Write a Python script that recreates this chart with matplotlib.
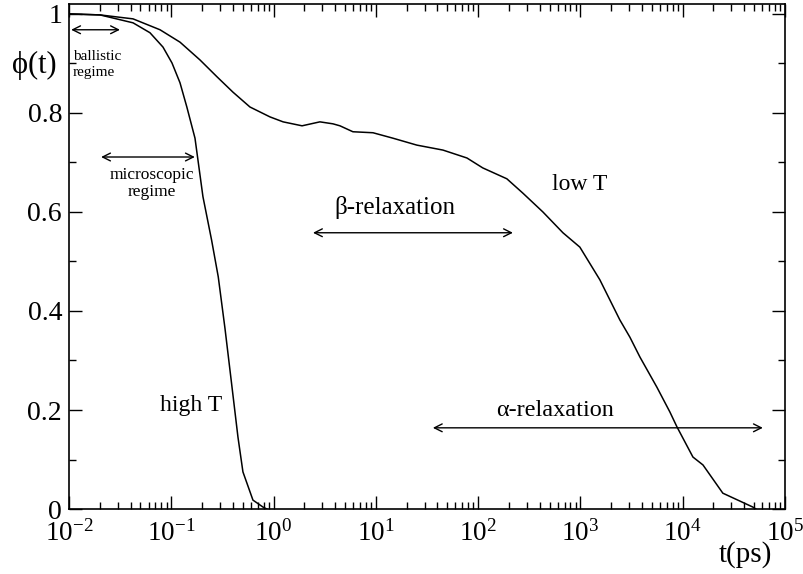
import numpy as np
import matplotlib
matplotlib.use("Agg")
import matplotlib.pyplot as plt
from matplotlib.ticker import LogLocator, MultipleLocator, FuncFormatter, NullFormatter

# Times-like look
plt.rcParams["font.family"] = ["Liberation Serif", "DejaVu Serif"]
plt.rcParams["mathtext.fontset"] = "custom"
plt.rcParams["mathtext.rm"] = "Liberation Serif"
plt.rcParams["mathtext.it"] = "Liberation Serif:italic"

# high temperature correlator
t_high = [0.01, 0.0201, 0.0423, 0.0619, 0.083, 0.1016, 0.1217, 0.142, 0.1706,
          0.204, 0.248, 0.288, 0.335, 0.388, 0.449, 0.502, 0.629, 0.788, 0.86]
phi_high = [1.0, 0.998, 0.982, 0.962, 0.933, 0.901, 0.861, 0.812, 0.749,
            0.631, 0.543, 0.469, 0.365, 0.255, 0.145, 0.075, 0.018, 0.004, 0.0]

# low temperature correlator
t_low = [0.01, 0.0201, 0.0423, 0.0776, 0.1217, 0.191, 0.280, 0.401, 0.588,
         0.923, 1.24, 1.90, 2.84, 3.81, 4.46, 5.97, 9.38, 14.7, 25.2, 45.3,
         77.8, 111, 191, 274, 430, 675, 988, 1550, 2430, 3050, 3820, 5600,
         7500, 8790, 12600, 15800, 24700, 48500, 52000]
phi_low = [1.0, 0.998, 0.990, 0.968, 0.943, 0.907, 0.873, 0.842, 0.812,
           0.792, 0.782, 0.774, 0.782, 0.778, 0.774, 0.762, 0.76, 0.749,
           0.735, 0.725, 0.709, 0.689, 0.667, 0.638, 0.6, 0.558, 0.529,
           0.463, 0.382, 0.347, 0.307, 0.246, 0.196, 0.166, 0.105, 0.089,
           0.032, 0.004, 0.0]

# regime arrows: (t_start, t_end, phi)
arrows = {
    "ballistic": (0.0105, 0.0315, 0.968),
    "microscopic": (0.0206, 0.17, 0.711),
    "beta": (2.43, 219, 0.558),
    "alpha": (36.1, 60800, 0.164),
}

fig = plt.figure(figsize=(8.04, 5.74), dpi=100)
ax = fig.add_axes([0.0858, 0.1132, 0.8905, 0.8798])

ax.plot(t_high, phi_high, color="black", lw=1.1)
ax.plot(t_low, phi_low, color="black", lw=1.1)

ax.set_xscale("log")
ax.set_xlim(1e-2, 1e5)
ax.set_ylim(0, 1.02)

for name, (t0, t1, y) in arrows.items():
    ax.annotate("", xy=(t1, y), xytext=(t0, y),
                arrowprops=dict(arrowstyle="<->", color="black", lw=1.0,
                                shrinkA=0, shrinkB=0, mutation_scale=14))

# annotations
ax.text(0.0109, 0.898, "ballistic\nregime", fontsize=11, ha="left", va="center",
        linespacing=1.25)
ax.text(0.0647, 0.657, "microscopic\nregime", fontsize=12.5, ha="center", va="center",
        linespacing=1.05)
ax.text(15.4, 0.61, "β-relaxation", fontsize=18, ha="center", va="center")
ax.text(564, 0.2, "α-relaxation", fontsize=17.5, ha="center", va="center")
ax.text(990, 0.655, "low T", fontsize=17, ha="center", va="center")
ax.text(0.156, 0.21, "high T", fontsize=17, ha="center", va="center")

fig.text(34 / 804, 1 - 65 / 574, "ϕ(t)", fontsize=22, ha="center", va="center")
fig.text(745 / 804, 1 - 555 / 574, "t(ps)", fontsize=21, ha="center", va="center")

# ticks
ax.xaxis.set_major_locator(LogLocator(base=10, numticks=100))
ax.xaxis.set_minor_locator(LogLocator(base=10, subs=np.arange(2, 10), numticks=100))
ax.xaxis.set_minor_formatter(NullFormatter())
ax.xaxis.set_major_formatter(FuncFormatter(lambda v, p: r"$10^{%d}$" % round(np.log10(v))))
ax.yaxis.set_major_locator(MultipleLocator(0.2))
ax.yaxis.set_minor_locator(MultipleLocator(0.1))
ax.yaxis.set_major_formatter(FuncFormatter(lambda v, p: "%g" % round(v, 1)))

ax.tick_params(which="both", direction="in", top=True, right=True)
ax.tick_params(axis="x", labelsize=19.5, pad=8)
ax.tick_params(axis="y", labelsize=20, pad=5)
ax.tick_params(which="major", length=9.5, width=1.0)
ax.tick_params(which="minor", length=5, width=1.0)

for s in ax.spines.values():
    s.set_linewidth(1.2)

fig.savefig("out.png", dpi=100)
